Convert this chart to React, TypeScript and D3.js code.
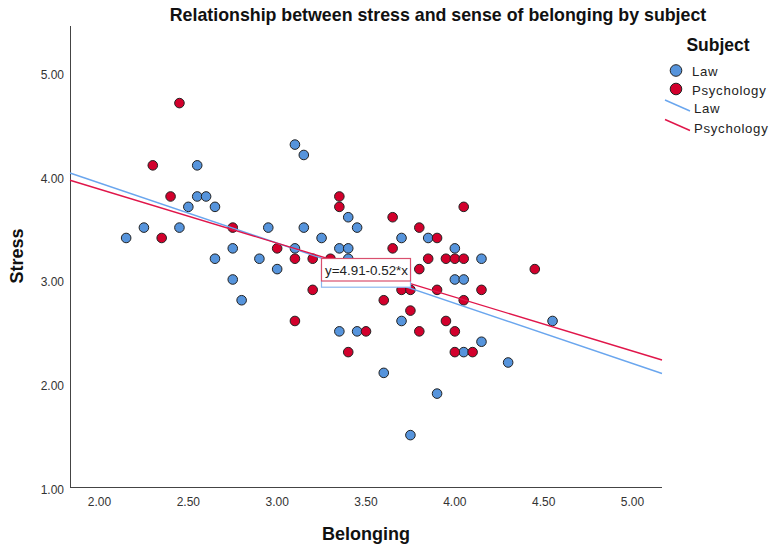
import React from "react";
import * as d3 from "d3";

// Law students (blue)
const lawBelonging = [
  2.15, 2.25, 2.45, 2.5, 2.55, 2.55, 2.6, 2.65, 2.65, 2.75, 2.75, 2.8, 2.9, 2.95,
  3.0, 3.1, 3.1, 3.15, 3.15, 3.25, 3.35, 3.35, 3.4, 3.4, 3.4, 3.45, 3.45, 3.6,
  3.7, 3.7, 3.75, 3.85, 3.9, 4.0, 4.0, 4.05, 4.05, 4.15, 4.15, 4.3, 4.55,
];
const lawStress = [
  3.4, 3.5, 3.5, 3.7, 4.1, 3.8, 3.8, 3.7, 3.2, 3.3, 3.0, 2.8, 3.2, 3.5,
  3.1, 4.3, 3.3, 4.2, 3.5, 3.4, 3.3, 2.5, 3.6, 3.3, 3.2, 3.5, 2.5, 2.1,
  3.4, 2.6, 1.5, 3.4, 1.9, 3.3, 3.0, 3.0, 2.3, 3.2, 2.4, 2.2, 2.6,
];

// Psychology students (red)
const psyBelonging = [
  2.3, 2.35, 2.4, 2.45, 2.75, 3.0, 3.1, 3.1, 3.2, 3.2, 3.3, 3.35, 3.35, 3.4,
  3.5, 3.6, 3.65, 3.65, 3.7, 3.75, 3.75, 3.8, 3.8, 3.8, 3.85, 3.9, 3.9, 3.95,
  3.95, 4.0, 4.0, 4.0, 4.05, 4.05, 4.05, 4.1, 4.15, 4.45,
];
const psyStress = [
  4.1, 3.4, 3.8, 4.7, 3.5, 3.3, 3.2, 2.6, 3.2, 2.9, 3.2, 3.8, 3.7, 2.3,
  2.5, 2.8, 3.6, 3.3, 2.9, 2.9, 2.7, 3.5, 3.1, 2.5, 3.2, 3.4, 2.9, 3.2,
  2.6, 3.2, 2.5, 2.3, 3.7, 3.2, 2.8, 2.3, 2.9, 3.1,
];

const subjects = ["Law", "Psychology"];
const fitIntercepts = [5.09, 4.91];
const fitSlopes = [-0.58, -0.52];
const xTicks = [2, 2.5, 3, 3.5, 4, 4.5, 5];
const yTicks = [1, 2, 3, 4, 5];

const colors = ["#5694dc", "#d2002c"];
const lineColors = ["#6aa6ee", "#e0164a"];
const font = "'Liberation Sans', Arial, sans-serif";

const W = 772;
const H = 546;
const left = 70;
const right = 662;
const top = 26;
const bottom = 487;

export default function App() {
  const x = d3.scaleLinear().domain([1.834, 5.166]).range([left, right]);
  const y = d3.scaleLinear().domain([1, 5.443]).range([bottom, top]);

  const series = [
    { xs: lawBelonging, ys: lawStress },
    { xs: psyBelonging, ys: psyStress },
  ];

  const fitLine = (i: number) =>
    d3
      .line<number>()
      .x((v) => x(v))
      .y((v) => y(fitIntercepts[i] + fitSlopes[i] * v))(x.domain());

  const fitLabel = (i: number) =>
    `y=${fitIntercepts[i].toFixed(2)}-${Math.abs(fitSlopes[i]).toFixed(2)}*x`;

  return (
    <svg
      width={W}
      height={H}
      style={{ position: "absolute", left: 0, top: 0, background: "#fff" }}
      fontFamily={font}
    >
      <text x={438} y={21} textAnchor="middle" fontSize={17.8} fontWeight="bold" fill="#111">
        Relationship between stress and sense of belonging by subject
      </text>

      {/* axes */}
      <line x1={left + 0.5} x2={left + 0.5} y1={top} y2={bottom} stroke="#444" />
      <line x1={left} x2={right} y1={bottom + 0.5} y2={bottom + 0.5} stroke="#444" />
      {xTicks.map((t) => (
        <text key={t} x={x(t)} y={505.5} textAnchor="middle" fontSize={12} fill="#333">
          {t.toFixed(2)}
        </text>
      ))}
      {yTicks.map((t) => (
        <text key={t} x={64} y={y(t) + 7} textAnchor="end" fontSize={12} fill="#333">
          {t.toFixed(2)}
        </text>
      ))}
      <text x={366} y={540} textAnchor="middle" fontSize={18} fontWeight="bold" fill="#111">
        Belonging
      </text>
      <text
        transform={`translate(23,256) rotate(-90)`}
        textAnchor="middle"
        fontSize={18}
        fontWeight="bold"
        fill="#111"
      >
        Stress
      </text>

      {/* points */}
      {series.map((s, i) => (
        <g key={i}>
          {s.xs.map((v, j) => (
            <circle
              key={j}
              cx={x(v)}
              cy={y(s.ys[j])}
              r={4.8}
              fill={colors[i]}
              stroke="#222"
              strokeWidth={1}
            />
          ))}
        </g>
      ))}

      {/* fit lines */}
      {subjects.map((s, i) => (
        <path key={s} d={fitLine(i) || ""} fill="none" stroke={lineColors[i]} strokeWidth={1.4} />
      ))}

      {/* fit labels: the Law box sits hidden under the Psychology box */}
      <rect x={321.5} y={264.7} width={89} height={22.5} fill="#fff" stroke="#8bb8ef" strokeWidth={1.2} />
      <rect x={321.5} y={258.5} width={89} height={22.5} fill="#fff" stroke="#d9506e" strokeWidth={1.2} />
      <text x={325} y={274.5} fontSize={13.4} fill="#222">
        {fitLabel(1)}
      </text>

      {/* legend */}
      <text x={718} y={51} textAnchor="middle" fontSize={17.5} fontWeight="bold" fill="#111">
        Subject
      </text>
      {subjects.map((s, i) => (
        <g key={s}>
          <circle cx={676} cy={70.5 + i * 18.5} r={5.8} fill={colors[i]} stroke="#222" />
          <text x={692} y={76 + i * 18.5} fontSize={13.2} letterSpacing={0.7} fill="#222">
            {s}
          </text>
          <line
            x1={665}
            y1={100 + i * 19.5}
            x2={690}
            y2={111 + i * 19.5}
            stroke={lineColors[i]}
            strokeWidth={1.4}
          />
          <text x={694} y={113 + i * 19.5} fontSize={13.2} letterSpacing={0.7} fill="#222">
            {s}
          </text>
        </g>
      ))}
    </svg>
  );
}
